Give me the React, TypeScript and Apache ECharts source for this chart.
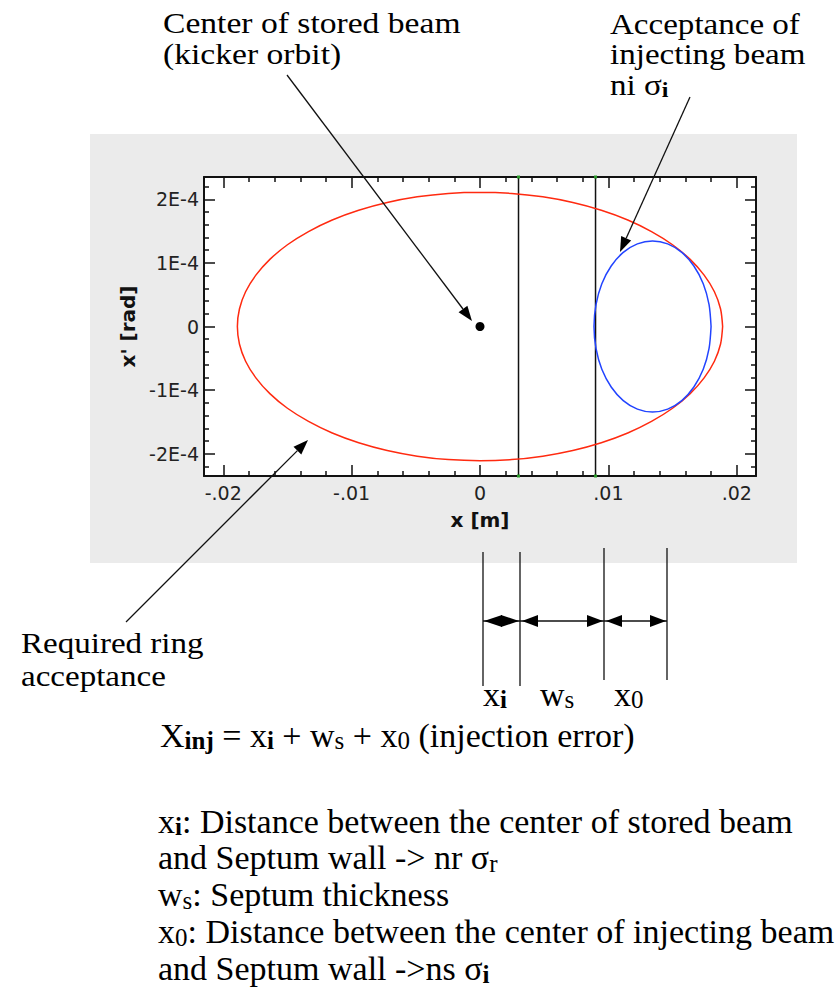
import React, { useEffect, useRef } from "react";
import * as echarts from "echarts";

// ---- axis ranges & ticks ----
const xRange = [-0.0215, 0.0215];
const yRange = [-2.35e-4, 2.35e-4];
const xTickValues = [-0.02, -0.01, 0, 0.01, 0.02];
const xTickLabels = ["-.02", "-.01", "0", ".01", ".02"];
const yTickValues = [-2e-4, -1e-4, 0, 1e-4, 2e-4];
const yTickLabels = ["-2E-4", "-1E-4", "0", "1E-4", "2E-4"];
const xMinorStep = 0.002;
const yMinorStep = 0.2e-4;

// ---- required ring acceptance (red) ----
const ringX = [0.0189, 0.01874, 0.01826, 0.01746, 0.01637, 0.015, 0.01336, 0.01151, 0.00945, 0.00723, 0.00489, 0.00247, 0, -0.00247, -0.00489, -0.00723, -0.00945, -0.01151, -0.01336, -0.015, -0.01637, -0.01746, -0.01826, -0.01874, -0.0189, -0.01874, -0.01826, -0.01746, -0.01637, -0.015, -0.01336, -0.01151, -0.00945, -0.00723, -0.00489, -0.00247, 0, 0.00247, 0.00489, 0.00723, 0.00945, 0.01151, 0.01336, 0.015, 0.01637, 0.01746, 0.01826, 0.01874, 0.0189];
const ringY = [0, 0.275e-4, 0.546e-4, 0.807e-4, 1.055e-4, 1.285e-4, 1.492e-4, 1.674e-4, 1.827e-4, 1.949e-4, 2.038e-4, 2.092e-4, 2.11e-4, 2.092e-4, 2.038e-4, 1.949e-4, 1.827e-4, 1.674e-4, 1.492e-4, 1.285e-4, 1.055e-4, 0.807e-4, 0.546e-4, 0.275e-4, 0, -0.275e-4, -0.546e-4, -0.807e-4, -1.055e-4, -1.285e-4, -1.492e-4, -1.674e-4, -1.827e-4, -1.949e-4, -2.038e-4, -2.092e-4, -2.11e-4, -2.092e-4, -2.038e-4, -1.949e-4, -1.827e-4, -1.674e-4, -1.492e-4, -1.285e-4, -1.055e-4, -0.807e-4, -0.546e-4, -0.275e-4, 0];

// ---- acceptance of injecting beam (blue) ----
const injX = [0.018, 0.01784, 0.01739, 0.01666, 0.01572, 0.01462, 0.01344, 0.01226, 0.01116, 0.01022, 0.00949, 0.00904, 0.00888, 0.00904, 0.00949, 0.01022, 0.01116, 0.01226, 0.01344, 0.01462, 0.01572, 0.01666, 0.01739, 0.01784, 0.018];
const injY = [0, 0.348e-4, 0.673e-4, 0.951e-4, 1.165e-4, 1.299e-4, 1.345e-4, 1.299e-4, 1.165e-4, 0.951e-4, 0.673e-4, 0.348e-4, 0, -0.348e-4, -0.673e-4, -0.951e-4, -1.165e-4, -1.299e-4, -1.345e-4, -1.299e-4, -1.165e-4, -0.951e-4, -0.673e-4, -0.348e-4, 0];

// ---- septum walls & stored beam centre ----
const septumX = [0.003, 0.009];
const storedCenter = [0, 0];

const SANS = "'DejaVu Sans', 'Liberation Sans', Arial, sans-serif";
const SERIF = "'Liberation Serif', 'Times New Roman', serif";

function minorTicks(min: number, max: number, step: number, majors: number[]) {
  const out: number[] = [];
  for (let i = Math.ceil(min / step - 1e-9); i <= Math.floor(max / step + 1e-9); i++) {
    const v = +(i * step).toPrecision(10);
    if (!majors.some((m) => Math.abs(m - v) < step * 1e-3)) out.push(v);
  }
  return out;
}

function labelFor(values: number[], labels: string[]) {
  return (v: number) => {
    const i = values.findIndex((t) => Math.abs(t - v) < 1e-12);
    return i >= 0 ? labels[i] : "";
  };
}

const xMinor = minorTicks(xRange[0], xRange[1], xMinorStep, xTickValues);
const yMinor = minorTicks(yRange[0], yRange[1], yMinorStep, yTickValues);

function mkAxis(kind: "x" | "y", position: string, ticks: number[], len: number, line: boolean, labels: boolean, extra: any = {}) {
  const range = kind === "x" ? xRange : yRange;
  return {
    type: "value",
    position,
    min: range[0],
    max: range[1],
    axisLine: { show: line, onZero: false, lineStyle: { color: "#111", width: 2 } },
    axisTick: { show: true, inside: true, length: len, customValues: ticks, lineStyle: { color: "#111", width: 1.5 } },
    axisLabel: {
      show: labels,
      customValues: ticks,
      formatter: kind === "x" ? labelFor(xTickValues, xTickLabels) : labelFor(yTickValues, yTickLabels),
      color: "#222",
      fontFamily: SANS,
      fontSize: 19,
      margin: kind === "x" ? 7 : 5,
    },
    splitLine: { show: false },
    minorTick: { show: false },
    ...extra,
  };
}

function arrow(x1: number, y1: number, x2: number, y2: number, len = 15, hw = 5.5) {
  const d = Math.hypot(x2 - x1, y2 - y1);
  const ux = (x2 - x1) / d, uy = (y2 - y1) / d;
  const bx = x2 - ux * len, by = y2 - uy * len;
  const px = -uy, py = ux;
  return [
    { type: "line", z: 100, shape: { x1, y1, x2: bx, y2: by }, style: { stroke: "#111", lineWidth: 1.3 } },
    { type: "polygon", z: 100, shape: { points: [[x2, y2], [bx + px * hw, by + py * hw], [bx - px * hw, by - py * hw]] }, style: { fill: "#000" } },
  ];
}

function head(tipX: number, y: number, dir: number, len = 15, hw = 5.5) {
  return { type: "polygon", z: 100, shape: { points: [[tipX, y], [tipX - dir * len, y - hw], [tipX - dir * len, y + hw]] }, style: { fill: "#000" } };
}

function richFor(L: number, fs: number) {
  const subFs = Math.round(fs * 0.74);
  const Ls = L - 16;
  return {
    n: { fontFamily: SERIF, fontSize: fs, lineHeight: L, verticalAlign: "middle", fill: "#000" },
    s: { fontFamily: SERIF, fontSize: subFs, lineHeight: Ls, verticalAlign: "bottom", fill: "#000" },
    sb: { fontFamily: SERIF, fontSize: subFs, lineHeight: Ls, verticalAlign: "bottom", fontWeight: "bold", fill: "#000" },
  };
}

// block of lines; baseline0 = baseline of first line, pitch = line spacing
function txt(lines: string[], x: number, baseline0: number, pitch = 36, fs = 34, sx = 1) {
  return {
    type: "text",
    z: 100,
    x,
    y: baseline0 - (pitch / 2 + 0.35 * fs),
    scaleX: sx,
    style: {
      text: lines.join("\n"),
      rich: richFor(pitch, fs),
      x: 0,
      y: 0,
      align: "left",
      verticalAlign: "top",
      fill: "#000",
    },
  };
}

const option: any = {
  animation: false,
  backgroundColor: "#fff",
  grid: { left: 204, top: 177, width: 552, height: 299, show: true, backgroundColor: "#fff", borderWidth: 0, containLabel: false },
  xAxis: [
    mkAxis("x", "bottom", xTickValues, 11, true, true, {
      name: "x [m]",
      nameLocation: "middle",
      nameGap: 34,
      nameTextStyle: { fontFamily: SANS, fontWeight: "bold", fontSize: 20, color: "#111" },
    }),
    mkAxis("x", "bottom", xMinor, 5, false, false),
    mkAxis("x", "top", xTickValues, 11, true, false),
    mkAxis("x", "top", xMinor, 5, false, false),
  ],
  yAxis: [
    mkAxis("y", "left", yTickValues, 11, true, true, {
      name: "x' [rad]",
      nameLocation: "middle",
      nameGap: 66,
      nameTextStyle: { fontFamily: SANS, fontWeight: "bold", fontSize: 20, color: "#111" },
    }),
    mkAxis("y", "left", yMinor, 5, false, false),
    mkAxis("y", "right", yTickValues, 11, true, false),
    mkAxis("y", "right", yMinor, 5, false, false),
  ],
  series: [
    {
      type: "line",
      name: "Required ring acceptance",
      data: ringX.map((x, i) => [x, ringY[i]]),
      smooth: 0.3,
      showSymbol: false,
      lineStyle: { color: "#ff2a10", width: 1.5 },
      z: 3,
    },
    {
      type: "line",
      name: "Acceptance of injecting beam",
      data: injX.map((x, i) => [x, injY[i]]),
      smooth: 0.3,
      showSymbol: false,
      lineStyle: { color: "#2244ff", width: 1.5 },
      z: 4,
    },
    ...septumX.map((sx) => ({
      type: "line",
      name: "Septum",
      data: [[sx, yRange[0]], [sx, yRange[1]]],
      showSymbol: false,
      lineStyle: { color: "#111", width: 1.5 },
      z: 2,
    })),
    {
      type: "scatter",
      name: "septum ends",
      symbol: "rect",
      symbolSize: 3,
      itemStyle: { color: "#2a9a2a", opacity: 1 },
      data: septumX.flatMap((sx) => [[sx, yRange[0]], [sx, yRange[1]]]),
      z: 5,
    },
    {
      type: "scatter",
      name: "Center of stored beam",
      symbolSize: 9,
      itemStyle: { color: "#000", opacity: 1 },
      data: [storedCenter],
      z: 6,
    },
  ],
  graphic: [
    { type: "rect", z: -10, shape: { x: 90, y: 134, width: 707, height: 429 }, style: { fill: "#ebebeb" } },
    // annotations
    txt(["{n|Center of stored beam}", "{n|(kicker orbit)}"], 163, 34, 31, 30, 1.12),
    txt(["{n|Acceptance of}", "{n|injecting beam}", "{n|ni σ}{sb|i}"], 610, 34, 30.5, 29, 1.14),
    txt(["{n|Required ring}", "{n|acceptance}"], 21, 653, 33, 29, 1.14),
    ...arrow(287, 75, 472, 321),
    ...arrow(690, 97, 620, 252),
    ...arrow(126, 622, 308, 440),
    // bracket
    { type: "line", z: 100, shape: { x1: 483, y1: 552, x2: 483, y2: 686 }, style: { stroke: "#111", lineWidth: 1.3 } },
    { type: "line", z: 100, shape: { x1: 520, y1: 552, x2: 520, y2: 686 }, style: { stroke: "#111", lineWidth: 1.3 } },
    { type: "line", z: 100, shape: { x1: 604, y1: 548, x2: 604, y2: 680 }, style: { stroke: "#111", lineWidth: 1.3 } },
    { type: "line", z: 100, shape: { x1: 667, y1: 548, x2: 667, y2: 680 }, style: { stroke: "#111", lineWidth: 1.3 } },
    { type: "line", z: 100, shape: { x1: 483, y1: 621, x2: 667, y2: 621 }, style: { stroke: "#111", lineWidth: 1.3 } },
    head(484, 621, -1, 18, 6),
    head(519, 621, 1, 18, 6),
    head(522, 621, -1, 16, 6),
    head(603, 621, 1, 16, 6),
    head(606, 621, -1, 16, 6),
    head(666, 621, 1, 16, 6),
    txt(["{n|x}{sb|i}"], 483, 706),
    txt(["{n|w}{s|s}"], 540, 706),
    txt(["{n|x}{s|0}"], 614, 706),
    // formula
    txt(["{n|X}{sb|inj}{n| = x}{sb|i}{n| + w}{s|s}{n| + x}{s|0}{n| (injection error)}"], 160, 747),
    txt(
      [
        "{n|x}{sb|i}{n|: Distance between the center of stored beam}",
        "{n|and Septum wall -> nr σ}{s|r}",
        "{n|w}{s|s}{n|: Septum thickness}",
        "{n|x}{s|0}{n|: Distance between the center of injecting beam}",
        "{n|and Septum wall ->ns σ}{sb|i}",
      ],
      158,
      833,
      36.8
    ),
  ],
};

export default function App() {
  const ref = useRef<HTMLDivElement>(null);
  useEffect(() => {
    const chart = echarts.init(ref.current!, null, { renderer: "svg" });
    chart.setOption(option);
    return () => chart.dispose();
  }, []);
  return (
    <div
      ref={ref}
      style={{ position: "fixed", left: 0, top: 0, width: 839, height: 999, background: "#fff" }}
    />
  );
}
